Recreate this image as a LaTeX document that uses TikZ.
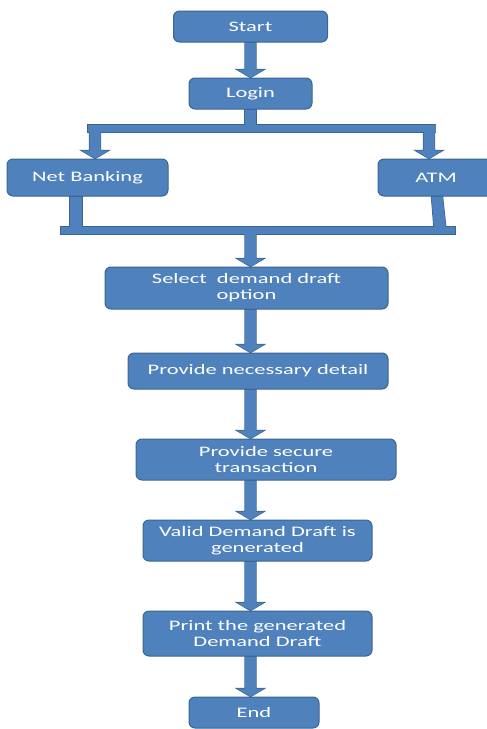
\documentclass[tikz,border=0pt]{standalone}
\usepackage{fontspec}
\setmainfont[FakeStretch=1.55]{Carlito}
\usetikzlibrary{calc,backgrounds}
\definecolor{boxblue}{HTML}{4F81BD}
\definecolor{edgeblue}{HTML}{3A6592}
\tikzset{
  box/.style={rectangle, rounded corners=6pt, fill=boxblue, draw=edgeblue, line width=1pt,
    text=white, font=\fontsize{14.5}{16}\selectfont, align=center, inner sep=0pt},
  barrow/.style={to path={let \p1=(\tikztostart), \p2=(\tikztotarget) in
    (\x1-5.5pt,\y1) -- (\x1+5.5pt,\y1) -- (\x1+5.5pt,\y2+8pt) -- (\x1+13.5pt,\y2+8pt)
    -- (\x1,\y2) -- (\x1-13.5pt,\y2+8pt) -- (\x1-5.5pt,\y2+8pt) -- cycle}},
  conout/.style={draw=edgeblue, line width=1.4pt, line join=miter},
  confill/.style={fill=boxblue}
}
\newcommand\drawconnectors[1]{%
  % main column arrows
  \path[#1,barrow] (start.south) to (login.north);
  \path[#1,barrow] (join) to (select.north -| spine);
  \path[#1,barrow] (select.south -| spine) to (detail.north -| spine);
  \path[#1,barrow] (detail.south -| spine) to (secure.north -| spine);
  \path[#1,barrow] (secure.south -| spine) to (valid.north -| spine);
  \path[#1,barrow] (valid.south -| spine) to (print.north -| spine);
  \path[#1,barrow] (print.south -| spine) to (end.north -| spine);
  % split from login
  \path[#1] ($(login.south)+(-5.5,0)$) rectangle ($(split)+(5.5,3.5)$);
  \path[#1] ($(nbdrop)+(-7,-3.5)$) rectangle ($(atmdrop)+(6.5,3.5)$);
  \path[#1,barrow] (nbdrop) to (nb.north -| nbdrop);
  \path[#1,barrow] (atmdrop) to (atm.north -| atmdrop);
  % join to the main column
  \path[#1] ($(nb.south -| nbstem)+(-6,0)$) rectangle ($(barL -| nbstem)+(6,3.5)$);
  \path[#1] ($(atm.south -| atmstem)+(-6.5,0)$) -- ($(atm.south -| atmstem)+(4.5,0)$)
     -- ($(barR -| atmstem)+(8.5,3.5)$) -- ($(barR -| atmstem)+(-3.5,3.5)$) -- cycle;
  \path[#1] ($(barL)+(0,-3.5)$) rectangle ($(barR)+(0,3.5)$);
}
\begin{document}
\begin{tikzpicture}[x=1pt,y=-1pt]
\useasboundingbox (0,0) rectangle (487,729);
\begin{scope}
\clip (0,0) rectangle (487,729);
\node[box, minimum width=154pt, minimum height=31pt] (start) at (250.5,26.5) {Start};
\node[box, minimum width=123pt, minimum height=31pt] (login) at (250.5,93.5) {Login};
\node[box, minimum width=161pt, minimum height=37pt] (nb) at (87.5,177.5) {Net Banking};
\node[box, minimum width=116pt, minimum height=37pt] (atm) at (436,177.5) {ATM};
\node[box, minimum width=283pt, minimum height=42pt] (select) at (246.5,288) {Select\ \ demand draft\\option};
\node[box, minimum width=260pt, minimum height=36pt] (detail) at (258,371) {Provide necessary detail};
\node[box, minimum width=260pt, minimum height=41pt] (secure) at (266,459.5) {Provide secure\\transaction};
\node[box, minimum width=229pt, minimum height=41pt] (valid) at (257.5,540.5) {Valid Demand Draft is\\generated};
\node[box, minimum width=229pt, minimum height=45pt] (print) at (257.5,633.5) {Print the generated\\Demand Draft};
\node[box, minimum width=130pt, minimum height=31pt] (end) at (254,712.5) {End};
\end{scope}
\coordinate (spine) at (250.5,0);
\coordinate (split) at (250.5,128.5);
\coordinate (nbdrop) at (95,128.5);
\coordinate (atmdrop) at (429,128.5);
\coordinate (join) at (250.5,234);
\coordinate (barL) at (61,230.5);
\coordinate (barR) at (455,230.5);
\coordinate (nbstem) at (76,0);
\coordinate (atmstem) at (438,0);
\begin{pgfonlayer}{background}
\drawconnectors{conout}
\drawconnectors{confill}
\end{pgfonlayer}
\end{tikzpicture}
\end{document}
